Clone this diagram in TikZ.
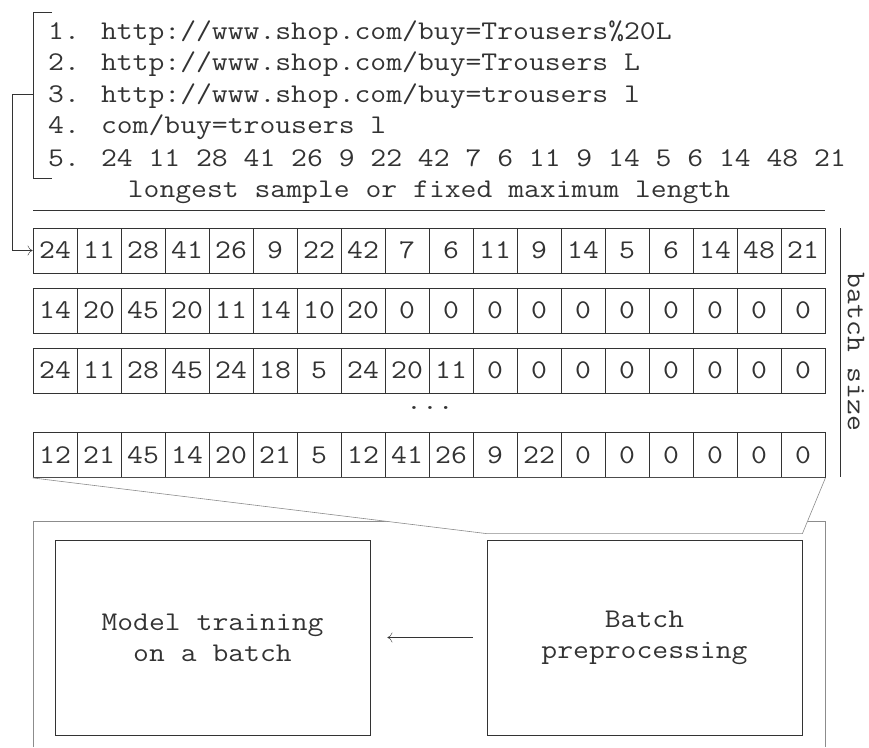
\documentclass[tikz,border=0pt]{standalone}
\usepackage{fontspec}
\usetikzlibrary{arrows.meta}
\newfontfamily\urlmono{Latin Modern Mono}[FakeStretch=1.14]
\definecolor{ink}{HTML}{333333}
\definecolor{frame}{HTML}{8C8C8C}
\tikzset{
	>={To[length=5pt,width=10pt]},
	cell/.style={draw=ink,line width=.8pt,minimum width=44pt,minimum height=45pt,inner sep=0pt,text=ink},
	stagebox/.style={draw=ink,line width=.8pt,minimum width=315pt,minimum height=195pt,align=center,text=ink},
	sample/.style={anchor=west,inner sep=0pt,text=ink}
}

\begin{document}
\begin{tikzpicture}
		[x=1pt,y=-1pt,font=\urlmono\fontsize{27}{31}\selectfont]
		\useasboundingbox (0,0) rectangle (869,747);

		% the samples
		\node[sample] (l1) at (48,33) {1. http://www.shop.com/buy=Trousers\%20L};
		\node[sample] (l2) at (48,64) {2. http://www.shop.com/buy=Trousers L};
		\node[sample] (l3) at (48,96) {3. http://www.shop.com/buy=trousers l};
		\node[sample] (l4) at (48,127) {4. com/buy=trousers l};
		\node[sample] (l5) at (48,158) {5. 24 11 28 41 26 9 22 42 7 6 11 9 14 5 6 14 48 21};
		\draw[ink,line width=.8pt] (52,12) -- (33,12) -- (33,178) -- (52,178);
		\coordinate (br) at (33,94);

		\node[text=ink] (len) at (429,192) {longest sample or fixed maximum length};
		\draw[ink,line width=.8pt] (33,210) -- (825,210);

		% the batch
		\foreach \row/\y [count=\i] in {
			{24,11,28,41,26,9,22,42,7,6,11,9,14,5,6,14,48,21}/250.5,
			{14,20,45,20,11,14,10,20,0,0,0,0,0,0,0,0,0,0}/310.5,
			{24,11,28,45,24,18,5,24,20,11,0,0,0,0,0,0,0,0}/370.5,
			{12,21,45,14,20,21,5,12,41,26,9,22,0,0,0,0,0,0}/455}
			\foreach \v [count=\j] in \row
				\node[cell] (r\i c\j) at ({33+44*(\j-.5)},\y) {\v};
		\node[text=ink] (dots) at (430,408) {...};

		\draw[ink,line width=.8pt] (840,228) -- (840,477);
		\node[text=ink,rotate=-90] (bs) at (856,352) {batch size};

		\draw[ink,->] (br) -- (12,94) -- (12,250.5) -- (r1c1.west);

		% the training loop
		\draw[frame,line width=1pt] (33,747) -- (33,521) -- (825,521) -- (825,747);
		\node[stagebox] (train) at (212.5,637.5) {Model training\\on a batch};
		\node[stagebox] (prep) at (644.5,637.5) {Batch\\preprocessing};
		\draw[frame,fill=white,line width=.6pt] (r4c1.south west) -- ([yshift=6pt]prep.north west) -- ([yshift=6pt]prep.north east) -- (r4c18.south east);
		\draw[ink,->,shorten <=14pt,shorten >=17pt] (prep) -- (train);

	\end{tikzpicture}
\end{document}
